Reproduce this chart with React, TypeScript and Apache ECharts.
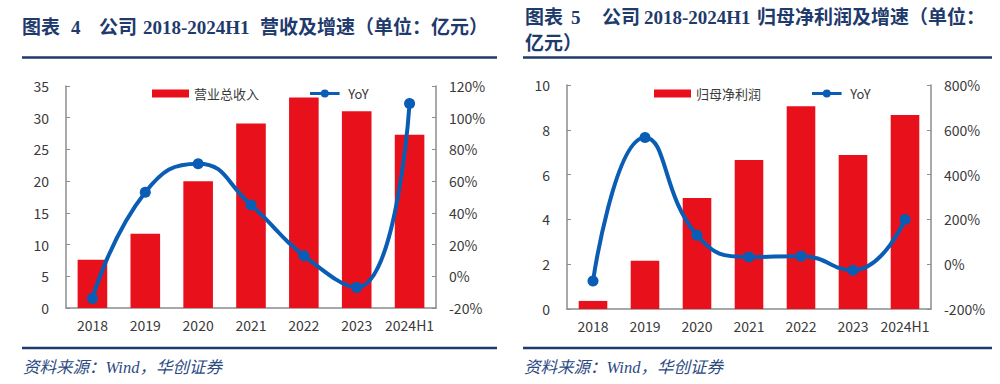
import React, { useEffect, useRef } from "react";
import * as echarts from "echarts";

const categories = ["2018", "2019", "2020", "2021", "2022", "2023", "2024H1"];
const revenue = [7.6, 11.7, 20.0, 29.1, 33.2, 31.0, 27.3];
const revenueYoY = [-14, 53, 71, 45, 13, -7, 109];
const netProfit = [0.36, 2.15, 4.95, 6.65, 9.05, 6.88, 8.66];
const netProfitYoY = [-75, 566, 129, 32, 36, -27, 200];

const RED = "#E8111B";
const BLUE = "#0A5DB4";
const NAVY = "#1F3A6C";
const AXIS = "#8C8C8C";
const LABEL = "#3A3A3A";
const SANS = '"Microsoft YaHei", "Noto Sans CJK SC", sans-serif';
const SERIF_B = '"Liberation Serif", "Noto Sans CJK SC", serif';
const LINE_ICON =
  "path://M0,2 L37,2 L37,6 L0,6 Z M13.5,4 A5,5 0 1,1 23.5,4 A5,5 0 1,1 13.5,4 Z";

function titleText(text: string, x: number, y: number, size: number) {
  return {
    type: "text",
    x,
    y,
    style: {
      text,
      fill: NAVY,
      fontFamily: SERIF_B,
      fontWeight: "bold",
      fontSize: size,
      verticalAlign: "middle",
      align: "left",
    },
  };
}

function rule(x1: number, x2: number, y: number, w: number) {
  return {
    type: "line",
    shape: { x1, y1: y, x2, y2: y },
    style: { stroke: NAVY, lineWidth: w },
  };
}

function sourceText(x: number) {
  return {
    type: "text",
    x,
    y: 367,
    style: {
      text: "资料来源：Wind，华创证券",
      fill: "#2C4A82",
      fontFamily: '"Liberation Serif", "Noto Sans CJK SC", serif',
      fontStyle: "italic",
      fontSize: 16.5,
      verticalAlign: "middle",
    },
  };
}

function xAxisCfg(gridIndex: number) {
  return {
    type: "category",
    gridIndex,
    data: categories,
    axisLine: { lineStyle: { color: AXIS, width: 1.5 } },
    axisTick: { inside: true, length: 4, lineStyle: { color: AXIS } },
    axisLabel: { color: LABEL, fontSize: 14, fontFamily: SANS, margin: 10, interval: 0 },
  };
}

function yAxisCfg(gridIndex: number, position: string, min: number, max: number, interval: number, pct: boolean, margin: number) {
  return {
    type: "value",
    gridIndex,
    position,
    min,
    max,
    interval,
    splitLine: { show: false },
    axisLine: { show: true, lineStyle: { color: AXIS, width: 1.5 } },
    axisTick: { show: true, inside: true, length: 4, lineStyle: { color: AXIS } },
    axisLabel: {
      color: LABEL,
      fontSize: 14,
      fontFamily: SANS,
      margin,
      formatter: pct ? (v: number) => v + "%" : (v: number) => String(v),
    },
  };
}

function legendCfg(left: number, barName: string, lineName: string) {
  return {
    left,
    top: 82,
    itemWidth: 37,
    itemHeight: 8,
    itemGap: 51,
    textStyle: { color: LABEL, fontSize: 13, fontFamily: SANS },
    data: [
      { name: barName, icon: "rect" },
      { name: lineName, icon: LINE_ICON, itemStyle: { color: BLUE } },
    ],
  };
}

export default function App() {
  const ref = useRef<HTMLDivElement>(null);
  useEffect(() => {
    if (!ref.current) return;
    const chart = echarts.init(ref.current, undefined, { renderer: "svg" });
    chart.setOption({
      animation: false,
      backgroundColor: "#ffffff",
      grid: [
        { left: 66, top: 86, width: 370, height: 222 },
        { left: 567, top: 85, width: 364, height: 224 },
      ],
      legend: [legendCfg(147, "营业总收入", "YoY"), legendCfg(649, "归母净利润", "YoY ")],
      xAxis: [xAxisCfg(0), xAxisCfg(1)],
      yAxis: [
        yAxisCfg(0, "left", 0, 35, 5, false, 17),
        yAxisCfg(0, "right", -20, 120, 20, true, 13),
        yAxisCfg(1, "left", 0, 10, 2, false, 17),
        yAxisCfg(1, "right", -200, 800, 200, true, 13),
      ],
      series: [
        {
          name: "营业总收入",
          type: "bar",
          xAxisIndex: 0,
          yAxisIndex: 0,
          data: revenue,
          barWidth: "56%",
          itemStyle: { color: RED },
        },
        {
          name: "YoY",
          type: "line",
          xAxisIndex: 0,
          yAxisIndex: 1,
          data: revenueYoY,
          smooth: 0.5,
          symbol: "circle",
          symbolSize: 11,
          lineStyle: { color: BLUE, width: 4 },
          itemStyle: { color: BLUE },
        },
        {
          name: "归母净利润",
          type: "bar",
          xAxisIndex: 1,
          yAxisIndex: 2,
          data: netProfit,
          barWidth: "55%",
          itemStyle: { color: RED },
        },
        {
          name: "YoY ",
          type: "line",
          xAxisIndex: 1,
          yAxisIndex: 3,
          data: netProfitYoY,
          smooth: 0.5,
          symbol: "circle",
          symbolSize: 11,
          lineStyle: { color: BLUE, width: 4 },
          itemStyle: { color: BLUE },
        },
      ],
      graphic: [
        titleText("图表", 22, 27, 19),
        titleText("4", 71, 27, 19),
        titleText("公司", 99, 27, 19),
        titleText("2018-2024H1", 143, 27, 19),
        titleText("营收及增速（单位：亿元）", 260, 27, 19),
        rule(22, 497, 57.5, 2.5),
        titleText("图表", 525, 17.5, 19),
        titleText("5", 571, 17.5, 19),
        titleText("公司", 602, 17.5, 19),
        titleText("2018-2024H1", 644, 17.5, 19),
        titleText("归母净利润及增速（单位：", 757, 17.5, 19),
        titleText("亿元）", 525, 43.5, 19),
        rule(523, 992, 57.5, 2.5),
        rule(22, 497, 348, 2.5),
        rule(523, 992, 348, 2.5),
        sourceText(23),
        sourceText(524),
      ],
    });
    return () => chart.dispose();
  }, []);
  return (
    <div
      ref={ref}
      style={{ position: "fixed", left: 0, top: 0, width: 1000, height: 384, background: "#fff" }}
    />
  );
}
